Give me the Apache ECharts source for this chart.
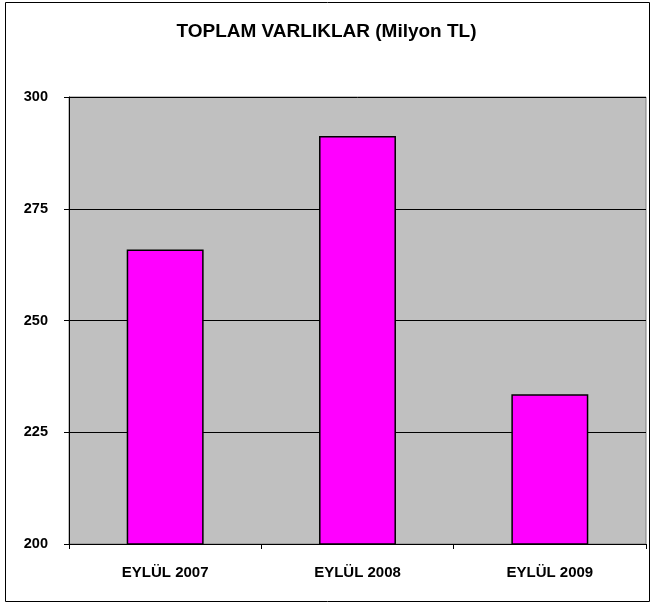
<!DOCTYPE html>
<html><head><meta charset="utf-8">
<script src="https://cdn.jsdelivr.net/npm/echarts@6/dist/echarts.min.js"></script>
<style>html,body{margin:0;padding:0;background:#fff}#c{width:653px;height:607px}</style>
</head><body><div id="c"></div>
<script>
const title = 'TOPLAM VARLIKLAR (Milyon TL)';
const categories = ['EYLÜL 2007', 'EYLÜL 2008', 'EYLÜL 2009'];
const values = [265.9, 291.3, 233.5];
const yMin = 200, yMax = 300, yStep = 25;

const chart = echarts.init(document.getElementById('c'), null, {renderer: 'canvas'});
const font = 'Liberation Sans, Arial, sans-serif';
chart.setOption({
  animation: false,
  backgroundColor: '#fff',
  title: {text: title, left: 'center', top: 17,
    textStyle: {fontFamily: font, fontWeight: 'bold', fontSize: 19, color: '#000'}},
  graphic: [{type: 'rect', silent: true, z: -1,
    shape: {x: 5.5, y: 2.5, width: 644, height: 599},
    style: {fill: 'none', stroke: '#000', lineWidth: 1}}],
  grid: {left: 69, right: 7, top: 97, bottom: 63, show: true,
    backgroundColor: '#c0c0c0', borderColor: '#808080', borderWidth: 1},
  xAxis: {type: 'category', data: categories,
    axisLine: {lineStyle: {color: '#000', width: 1}},
    axisTick: {show: true, alignWithLabel: false, length: 5, lineStyle: {color: '#000'}},
    axisLabel: {fontFamily: font, fontWeight: 'bold', fontSize: 15, color: '#000', margin: 21}},
  yAxis: {type: 'value', min: yMin, max: yMax, interval: yStep,
    axisLine: {show: true, lineStyle: {color: '#000', width: 1}},
    axisTick: {show: true, length: 5, lineStyle: {color: '#000'}},
    splitLine: {lineStyle: {color: '#000', width: 1}},
    axisLabel: {fontFamily: font, fontWeight: 'bold', fontSize: 14.5, color: '#000', margin: 21}},
  series: [{type: 'bar', data: values, barWidth: '40%',
    itemStyle: {color: '#ff00ff', borderColor: '#000', borderWidth: 1.5}}]
});
</script></body></html>
